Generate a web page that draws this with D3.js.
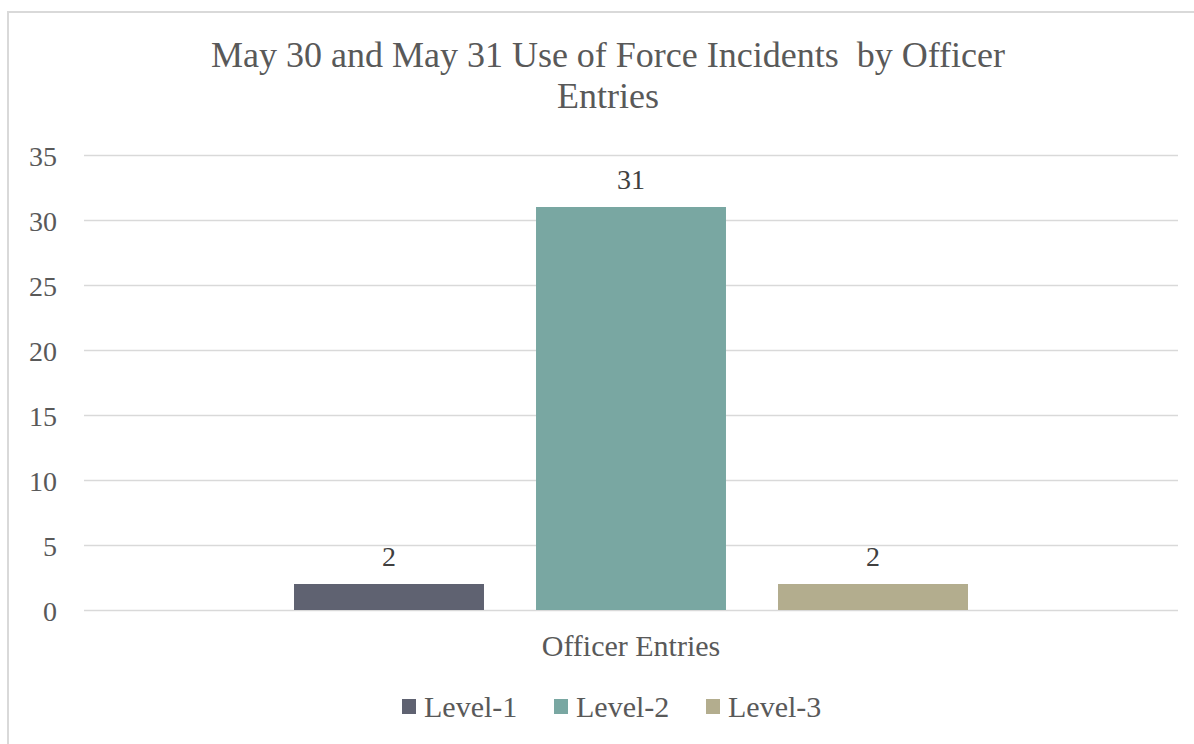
<!DOCTYPE html>
<html><head><meta charset="utf-8">
<script src="https://cdn.jsdelivr.net/npm/d3@7"></script>
<style>body{margin:0;background:#fff}svg{display:block}#c text{font-family:'Liberation Serif','Times New Roman',serif !important;}</style>
</head><body>
<svg id="c" width="1194" height="744"></svg>
<script>
const categories = ["Officer Entries"];
const seriesNames = ["Level-1", "Level-2", "Level-3"];
const level1 = [2];
const level2 = [31];
const level3 = [2];
const seriesColors = ["#5f6271", "#79a7a2", "#b3ad8e"];
const yTicks = [0, 5, 10, 15, 20, 25, 30, 35];
const titleLines = ["May 30 and May 31 Use of Force Incidents  by Officer", "Entries"];

(function () {
const seriesValues = [level1, level2, level3];
const svg = d3.select("#c");
const font = "Liberation Serif";

// frame
svg.append("rect").attr("x", 8).attr("y", 12).attr("width", 1200).attr("height", 800)
  .attr("fill", "#fff").attr("stroke", "#d9d9d9").attr("stroke-width", 2);

const pLeft = 84, pRight = 1178, pTop = 155, pBottom = 610;
const y = d3.scaleLinear().domain([0, 35]).range([pBottom, pTop]);
const x0 = d3.scaleBand().domain(categories).range([pLeft, pRight]).paddingInner(0).paddingOuter(0.3116);
const x1 = d3.scaleBand().domain(seriesNames).range([0, x0.bandwidth()]).paddingInner(0.215).paddingOuter(0);

// gridlines
const yAxis = d3.axisLeft(y).tickValues(yTicks).tickSize(-(pRight - pLeft)).tickPadding(27);
const ga = svg.append("g").attr("transform", `translate(${pLeft},0)`).call(yAxis)
  .attr("font-family", font).attr("font-size", 28);
ga.select(".domain").remove();
ga.selectAll(".tick line").attr("stroke", "#d9d9d9").attr("stroke-width", 1.3);
ga.selectAll(".tick text").attr("font-family", font).attr("font-size", 28).attr("fill", "#595959").attr("dy", "0.36em");

// bars
const groups = svg.append("g").selectAll("g").data(categories).join("g")
  .attr("transform", d => `translate(${x0(d)},0)`);
seriesNames.forEach((s, si) => {
  groups.append("rect")
    .attr("x", x1(s))
    .attr("y", (d) => y(seriesValues[si][categories.indexOf(d)]))
    .attr("width", x1.bandwidth())
    .attr("height", (d) => y(0) - y(seriesValues[si][categories.indexOf(d)]))
    .attr("fill", seriesColors[si]);
  groups.append("text")
    .attr("x", x1(s) + x1.bandwidth() / 2)
    .attr("y", (d) => y(seriesValues[si][categories.indexOf(d)]) - 18)
    .attr("text-anchor", "middle")
    .attr("font-family", font).attr("font-size", 28).attr("fill", "#404040")
    .text(d => seriesValues[si][categories.indexOf(d)]);
});

// category label
svg.append("g").selectAll("text").data(categories).join("text")
  .attr("x", d => x0(d) + x0.bandwidth() / 2).attr("y", 656)
  .attr("text-anchor", "middle").attr("font-family", font).attr("font-size", 30).attr("fill", "#595959")
  .text(d => d);

// title
svg.append("text").attr("text-anchor", "middle").attr("font-family", font).attr("font-size", 36).attr("fill", "#595959")
  .style("white-space", "pre")
  .selectAll("tspan").data(titleLines).join("tspan")
  .attr("x", 608).attr("y", (d, i) => 67 + i * 41).text(d => d);

// legend
const legendX = [402, 554, 706];
const lg = svg.append("g").selectAll("g").data(seriesNames).join("g")
  .attr("transform", (d, i) => `translate(${legendX[i]},0)`);
lg.append("rect").attr("x", 0).attr("y", 699).attr("width", 14).attr("height", 15).attr("fill", (d, i) => seriesColors[i]);
lg.append("text").attr("x", 22).attr("y", 717).attr("font-family", font).attr("font-size", 30).attr("fill", "#595959").text(d => d);
})();
</script>
</body></html>
